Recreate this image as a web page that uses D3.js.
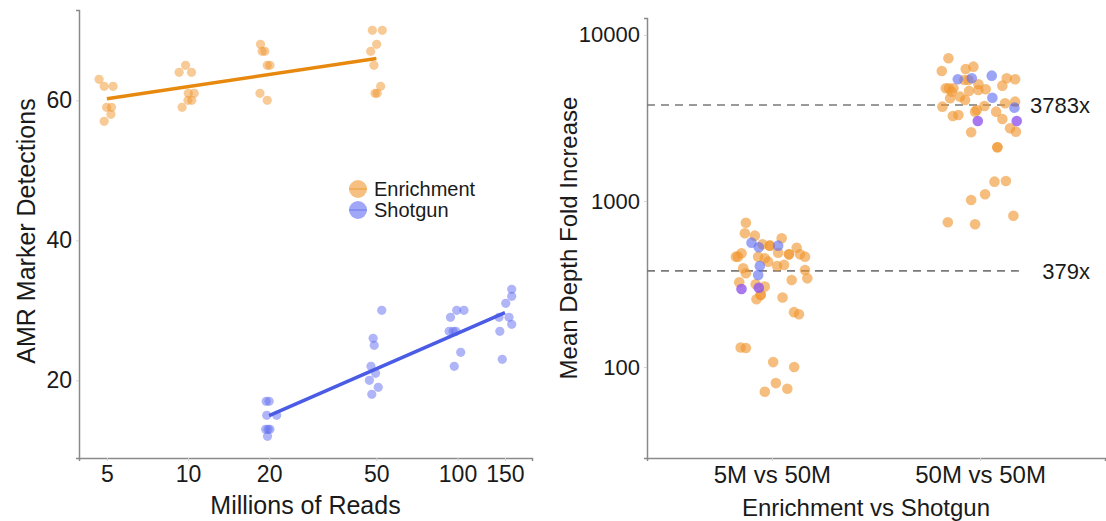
<!DOCTYPE html>
<html>
<head>
<meta charset="utf-8">
<script src="https://cdn.jsdelivr.net/npm/d3@7"></script>
<style>
  body { margin: 0; background: #fff; }
  svg { display: block; font-family: "Liberation Sans", Arial, sans-serif; }
</style>
</head>
<body>
<svg id="chart" width="1106" height="521"></svg>
<script>
// =============================================================================
// DATA
// =============================================================================

const READ_TICKS = [5, 10, 20, 50, 100, 150];
const AMR_TICKS = [20, 40, 60];

// [reads (M), jitter (log10 units), AMR markers detected]
const enrichmentAmr = [
  [5, -0.029, 63], [5, -0.010, 62], [5, 0.023, 62], [5, -0.001, 59], [5, 0.017, 59], [5, 0.015, 58], [5, -0.010, 57],
  [10, -0.033, 64], [10, -0.009, 65], [10, 0.013, 64], [10, 0.001, 61], [10, 0.023, 61], [10, 0.000, 60], [10, 0.014, 60], [10, -0.022, 59],
  [20, -0.032, 68], [20, -0.026, 67], [20, -0.016, 67], [20, -0.007, 65], [20, 0.003, 65], [20, -0.034, 61], [20, -0.007, 60],
  [50, -0.015, 70], [50, 0.022, 70], [50, 0.001, 68], [50, -0.021, 67], [50, -0.009, 65], [50, 0.016, 62], [50, -0.005, 61], [50, 0.003, 61]
];

const shotgunAmr = [
  [20, -0.011, 17], [20, 0.000, 17], [20, -0.009, 15], [20, 0.028, 15], [20, -0.013, 13], [20, 0.003, 13], [20, -0.004, 13], [20, -0.006, 12],
  [50, 0.020, 30], [50, -0.012, 26], [50, -0.008, 25], [50, -0.020, 22], [50, -0.003, 21], [50, -0.026, 20], [50, 0.007, 19], [50, -0.017, 18],
  [100, -0.003, 30], [100, 0.024, 30], [100, -0.026, 29], [100, -0.031, 27], [100, -0.016, 27], [100, -0.006, 27], [100, 0.012, 24], [100, -0.012, 22],
  [150, 0.025, 33], [150, 0.025, 32], [150, 0.003, 31], [150, -0.022, 29], [150, 0.015, 29], [150, 0.025, 28], [150, -0.019, 27], [150, -0.010, 23]
];

const COMPARISONS = ['5M vs 50M', '50M vs 50M'];
const FOLD_TICKS = [100, 1000, 10000];
const FOLD_MEANS = [379, 3783];

// [comparison index, jitter (fraction of step), fold increase]
const foldEnrichment = [
  [0, -0.125, 740], [0, -0.130, 639], [0, -0.082, 618], [0, -0.010, 538], [0, 0.047, 596], [0, -0.045, 548],
  [0, -0.146, 484], [0, -0.173, 462], [0, -0.163, 462], [0, -0.066, 462], [0, -0.034, 452], [0, -0.018, 431],
  [0, 0.030, 488], [0, 0.082, 477], [0, 0.119, 523], [0, 0.135, 477], [0, 0.159, 462], [0, 0.025, 406],
  [0, 0.058, 412], [0, -0.138, 393], [0, -0.125, 367], [0, 0.159, 384], [0, 0.170, 342], [0, 0.095, 334],
  [0, -0.157, 324], [0, -0.078, 315], [0, -0.034, 305], [0, -0.054, 272], [0, -0.074, 256], [0, 0.051, 262],
  [0, 0.106, 214], [0, 0.130, 208], [0, -0.150, 131], [0, -0.125, 130], [0, 0.006, 107], [0, 0.107, 100],
  [0, 0.019, 80], [0, -0.034, 71], [0, 0.074, 74], [0, 0.082, 477], [0, -0.010, 538], [0, -0.054, 272],
  [1, -0.152, 7237], [1, -0.184, 6069], [1, -0.069, 6241], [1, -0.032, 6442], [1, -0.075, 5357], [1, -0.056, 5357],
  [1, 0.128, 5485], [1, 0.168, 5411], [1, 0.107, 4951], [1, -0.008, 5047], [1, -0.008, 4665], [1, -0.165, 4775],
  [1, -0.128, 4775], [1, -0.136, 4552], [1, -0.053, 4599], [1, 0.027, 4708], [1, -0.096, 4249], [1, -0.072, 4059],
  [1, -0.144, 4157], [1, -0.181, 3700], [1, 0.120, 3878], [1, 0.168, 3965], [1, 0.021, 3735], [1, -0.016, 3532],
  [1, -0.024, 3451], [1, -0.131, 3251], [1, -0.104, 3296], [1, 0.077, 3451], [1, 0.107, 3119], [1, 0.144, 2741],
  [1, 0.172, 2615], [1, -0.043, 2594], [1, 0.083, 2106], [1, 0.069, 1307], [1, 0.124, 1320], [1, 0.024, 1097],
  [1, -0.043, 1014], [1, -0.155, 744], [1, -0.024, 724], [1, 0.160, 815], [1, -0.150, 4775], [1, 0.083, 2106]
];

const foldShotgun = [
  [0, -0.098, 561], [0, -0.063, 526], [0, 0.030, 538], [0, -0.058, 406], [0, -0.066, 358],
  [1, -0.107, 5411], [1, -0.040, 5485], [1, 0.056, 5685], [1, 0.059, 4189], [1, 0.165, 3648]
];

// shotgun points sitting on top of enrichment points
const foldOverlap = [
  [0, -0.146, 295], [0, -0.063, 300],
  [1, -0.011, 3034], [1, 0.176, 3034]
];

// =============================================================================
// CONSTANTS
// =============================================================================

const ORANGE = '#f0962e';
const ORANGE_LINE = '#e8890f';
const BLUE = '#5f6cf0';
const BLUE_LINE = '#4a5be6';
const PURPLE = '#9156ec';
const AXIS_COLOR = '#8a8a8a';
const TEXT_COLOR = '#1a1a1a';

const LEFT = { x0: 79, x1: 532, y0: 10, y1: 458 };
const RIGHT = { x0: 647, x1: 1105, y0: 18, y1: 458 };

const svg = d3.select('#chart');

// =============================================================================
// HELPERS
// =============================================================================

/**
 * Least squares fit of y on log10(x).
 */
function fitLogLine(rows) {
  const xs = rows.map(r => Math.log10(r[0]));
  const ys = rows.map(r => r[2]);
  const mx = d3.mean(xs);
  const my = d3.mean(ys);
  let num = 0, den = 0;
  xs.forEach((x, i) => { num += (x - mx) * (ys[i] - my); den += (x - mx) * (x - mx); });
  const slope = num / den;
  const ext = d3.extent(rows, r => r[0]);
  return ext.map(x => [x, my + slope * (Math.log10(x) - mx)]);
}

function styleAxis(g, fontSize) {
  g.select('.domain').attr('stroke', AXIS_COLOR).attr('stroke-width', 1.5);
  g.selectAll('.tick line').attr('stroke', '#d4d4d4');
  g.selectAll('.tick text')
    .attr('fill', TEXT_COLOR)
    .attr('font-size', fontSize)
    .attr('font-family', '"Liberation Sans", Arial, sans-serif');
}

// =============================================================================
// LEFT PANEL
// =============================================================================

function renderDetections() {
  const x = d3.scaleLog().domain([3.94, 189]).range([LEFT.x0, LEFT.x1]);
  const y = d3.scaleLinear().domain([8.9, 72.9]).range([LEFT.y1, LEFT.y0]);

  const g = svg.append('g');

  g.append('g')
    .attr('transform', `translate(0,${LEFT.y1})`)
    .call(d3.axisBottom(x).tickValues(READ_TICKS).tickFormat(d3.format('d')).tickSize(3).tickPadding(5))
    .call(a => styleAxis(a, 23));

  g.append('g')
    .attr('transform', `translate(${LEFT.x0},0)`)
    .call(d3.axisLeft(y).tickValues(AMR_TICKS).tickSize(3).tickPadding(4))
    .call(a => styleAxis(a, 23));

  const series = [
    { rows: enrichmentAmr, fill: ORANGE, line: ORANGE_LINE },
    { rows: shotgunAmr, fill: BLUE, line: BLUE_LINE }
  ];

  series.forEach(s => {
    g.append('g').selectAll('circle')
      .data(s.rows)
      .join('circle')
      .attr('cx', d => x(d[0] * Math.pow(10, d[1])))
      .attr('cy', d => y(d[2]))
      .attr('r', 4.6)
      .attr('fill', s.fill)
      .attr('fill-opacity', 0.5);
  });

  series.forEach(s => {
    g.append('path')
      .datum(fitLogLine(s.rows))
      .attr('d', d3.line().x(d => x(d[0])).y(d => y(d[1])))
      .attr('stroke', s.line)
      .attr('stroke-width', 3.5)
      .attr('fill', 'none');
  });

  g.append('text')
    .attr('x', (LEFT.x0 + LEFT.x1) / 2)
    .attr('y', 514)
    .attr('text-anchor', 'middle')
    .attr('font-size', 25)
    .attr('fill', TEXT_COLOR)
    .text('Millions of Reads');

  g.append('text')
    .attr('transform', `translate(35,${(LEFT.y0 + LEFT.y1) / 2 - 3}) rotate(-90)`)
    .attr('text-anchor', 'middle')
    .attr('font-size', 25)
    .attr('fill', TEXT_COLOR)
    .text('AMR Marker Detections');

  // legend
  const legend = g.append('g').attr('transform', 'translate(358,189)');
  [['Enrichment', ORANGE, ORANGE_LINE], ['Shotgun', BLUE, BLUE_LINE]].forEach((item, i) => {
    const row = legend.append('g').attr('transform', `translate(0,${i * 21})`);
    row.append('circle').attr('r', 9).attr('fill', item[1]).attr('fill-opacity', 0.6);
    row.append('line').attr('x1', -9).attr('x2', 9)
      .attr('stroke', item[2]).attr('stroke-width', 1.2).attr('stroke-opacity', 0.5);
    row.append('text')
      .attr('x', 16).attr('dy', '0.35em')
      .attr('font-size', 20)
      .attr('fill', TEXT_COLOR)
      .text(item[0]);
  });
}

// =============================================================================
// RIGHT PANEL
// =============================================================================

function renderFold() {
  const x = d3.scalePoint().domain(COMPARISONS).range([RIGHT.x0, RIGHT.x1]).padding(0.6);
  const y = d3.scaleLog().domain([28.3, 12650]).range([RIGHT.y1, RIGHT.y0]);
  const step = x.step();

  const g = svg.append('g');

  g.append('g')
    .attr('transform', `translate(0,${RIGHT.y1})`)
    .call(d3.axisBottom(x).tickSize(3).tickPadding(5))
    .call(a => styleAxis(a, 24));

  g.append('g')
    .attr('transform', `translate(${RIGHT.x0},0)`)
    .call(d3.axisLeft(y).tickValues(FOLD_TICKS).tickFormat(d3.format('d')).tickSize(3).tickPadding(4))
    .call(a => styleAxis(a, 22));

  // mean reference lines
  FOLD_MEANS.forEach(v => {
    g.append('line')
      .attr('x1', RIGHT.x0).attr('x2', 1025)
      .attr('y1', y(v)).attr('y2', y(v))
      .attr('stroke', '#7a7a7a')
      .attr('stroke-width', 1.6)
      .attr('stroke-dasharray', '8,6');
    g.append('text')
      .attr('x', 1090).attr('y', y(v)).attr('dy', '0.35em')
      .attr('text-anchor', 'end')
      .attr('font-size', 22)
      .attr('fill', TEXT_COLOR)
      .text(`${v}x`);
  });

  [[foldEnrichment, ORANGE, 0.62], [foldShotgun, BLUE, 0.62], [foldOverlap, PURPLE, 0.8]].forEach(([rows, fill, op]) => {
    g.append('g').selectAll('circle')
      .data(rows)
      .join('circle')
      .attr('cx', d => x(COMPARISONS[d[0]]) + d[1] * step)
      .attr('cy', d => y(d[2]))
      .attr('r', 5.3)
      .attr('fill', fill)
      .attr('fill-opacity', op);
  });

  g.append('text')
    .attr('x', (RIGHT.x0 + RIGHT.x1) / 2 - 10)
    .attr('y', 516)
    .attr('text-anchor', 'middle')
    .attr('font-size', 24)
    .attr('fill', TEXT_COLOR)
    .text('Enrichment vs Shotgun');

  g.append('text')
    .attr('transform', `translate(577,${(RIGHT.y0 + RIGHT.y1) / 2}) rotate(-90)`)
    .attr('text-anchor', 'middle')
    .attr('font-size', 24)
    .attr('fill', TEXT_COLOR)
    .text('Mean Depth Fold Increase');
}

renderDetections();
renderFold();
</script>
</body>
</html>
